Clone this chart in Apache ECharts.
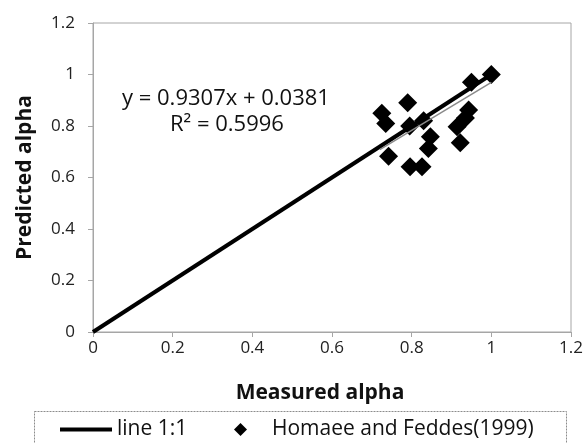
<!DOCTYPE html>
<html>
<head>
<meta charset="utf-8">
<script src="https://cdn.jsdelivr.net/npm/echarts@6/dist/echarts.min.js"></script>
<style>html,body{margin:0;padding:0;background:#fff}#c{width:586px;height:443px}</style>
</head>
<body>
<div id="c"></div>
<script>
// Data
const measured = [1.00, 0.95, 0.79, 0.725, 0.735, 0.795, 0.83, 0.943, 0.935, 0.914, 0.847, 0.842, 0.922, 0.742, 0.796, 0.826];
const predicted = [1.00, 0.97, 0.89, 0.85, 0.81, 0.80, 0.82, 0.862, 0.831, 0.797, 0.758, 0.713, 0.735, 0.683, 0.642, 0.642];
const lineX = [0, 1];
const lineY = [0, 1];
const trendX = [0.72, 1.0];
const trendY = [0.708, 0.969];
const xTicks = [0, 0.2, 0.4, 0.6, 0.8, 1, 1.2];
const yTicks = [0, 0.2, 0.4, 0.6, 0.8, 1, 1.2];
const equationText = 'y = 0.9307x + 0.0381';
const r2Text = 'R² = 0.5996';

const F = '"Open Sans", Lato, sans-serif';
const chart = echarts.init(document.getElementById('c'), null, {renderer: 'canvas'});
const fmtX = v => (xTicks.includes(+v.toFixed(1)) ? String(+v.toFixed(1)) : '');
const fmtY = v => (yTicks.includes(+v.toFixed(1)) ? String(+v.toFixed(1)) : '');
chart.setOption({
  animation: false,
  backgroundColor: '#fff',
  grid: {left: 93, right: 15, top: 23, bottom: 111, show: true, borderColor: '#a6a6a6', borderWidth: 1, backgroundColor: 'transparent'},
  xAxis: {
    type: 'value', min: 0, max: 1.2, interval: 0.2,
    name: 'Measured alpha', nameLocation: 'middle', nameGap: 51,
    nameTextStyle: {fontFamily: F, fontSize: 21, fontWeight: 'bold', color: '#111', padding: [0, 24, 0, 0]},
    axisLine: {show: true, lineStyle: {color: '#a6a6a6'}},
    axisTick: {show: true, inside: false, length: 5, lineStyle: {color: '#a6a6a6'}},
    axisLabel: {fontFamily: F, fontSize: 17, color: '#222', margin: 8, formatter: fmtX},
    splitLine: {show: false}
  },
  yAxis: {
    type: 'value', min: 0, max: 1.2, interval: 0.2,
    name: 'Predicted alpha', nameLocation: 'middle', nameGap: 57, nameRotate: 90,
    nameTextStyle: {fontFamily: F, fontSize: 21, fontWeight: 'bold', color: '#111'},
    axisLine: {show: true, lineStyle: {color: '#a6a6a6'}},
    axisTick: {show: true, inside: false, length: 5, lineStyle: {color: '#a6a6a6'}},
    axisLabel: {fontFamily: F, fontSize: 17, color: '#222', margin: 18, formatter: fmtY},
    splitLine: {show: false}
  },
  legend: [
    {data: [{name: 'line 1:1', icon: 'path://M0,0H52V4H0Z'}], left: 55, top: 414, itemWidth: 52, itemHeight: 14,
     textStyle: {fontFamily: F, fontSize: 21, color: '#111'}},
    {data: [{name: 'Homaee and Feddes(1999)', icon: 'diamond'}], left: 229, top: 414, itemWidth: 13, itemHeight: 13,
     textStyle: {fontFamily: F, fontSize: 21, color: '#111', padding: [0, 0, 0, 20]}}
  ],
  graphic: [
    {type: 'rect', shape: {x: 34.5, y: 411.5, width: 532, height: 40}, style: {fill: 'none', stroke: '#8c8c8c', lineWidth: 1, lineDash: [2, 1]}, silent: true, z: 0},
    {type: 'text', left: 122, top: 88, style: {text: equationText, font: '22px ' + F, fill: '#111'}},
    {type: 'text', left: 170, top: 114, style: {text: r2Text, font: '22px ' + F, fill: '#111'}}
  ],
  series: [
    {name: 'line 1:1', type: 'line', data: lineX.map((x, i) => [x, lineY[i]]), symbol: 'none', showSymbol: false,
     lineStyle: {color: '#000', width: 4}, itemStyle: {color: '#000'}, z: 3},
    {name: 'trend', type: 'line', data: trendX.map((x, i) => [x, trendY[i]]), symbol: 'none', showSymbol: false,
     lineStyle: {color: '#8a8a8a', width: 1.5}, z: 4},
    {name: 'Homaee and Feddes(1999)', type: 'scatter', data: measured.map((x, i) => [x, predicted[i]]),
     symbol: 'diamond', symbolSize: 19, itemStyle: {color: '#000', opacity: 1}, z: 2}
  ]
});
</script>
</body>
</html>
